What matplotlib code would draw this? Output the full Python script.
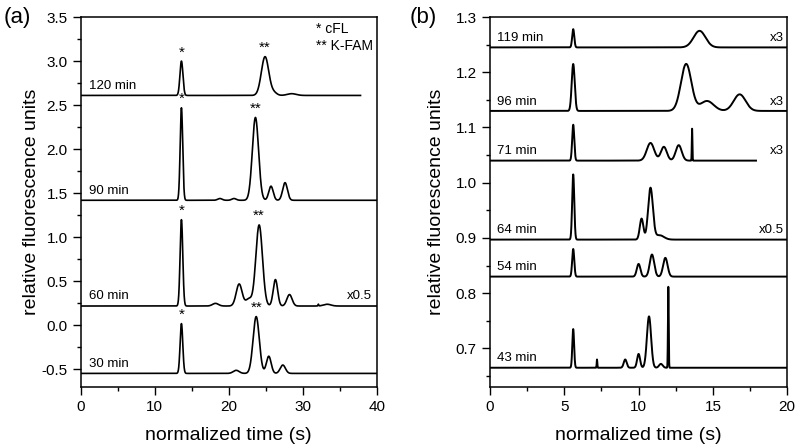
import numpy as np
import matplotlib.pyplot as plt

plt.rcParams['font.family'] = ['Liberation Sans', 'DejaVu Sans']

###### panel (a) - capillary runs ######
# each trace: label, baseline, end time, peak centres (s), peak tops, peak widths (sigma)
a_labels = ['120 min', '90 min', '60 min', '30 min']
a_base = [2.61, 1.42, 0.22, -0.545]
a_end = [37.8, 40.0, 40.0, 40.0]
a_centres = [[13.6, 24.9, 26.1, 28.5],
             [13.6, 18.8, 20.7, 23.6, 25.7, 27.6],
             [13.6, 18.2, 21.4, 22.7, 24.1, 26.3, 28.2, 32.1, 33.3],
             [13.6, 21.0, 23.7, 25.4, 27.3]]
a_tops = [[3.0, 3.05, 2.64, 2.63],
          [2.47, 1.44, 1.44, 2.36, 1.58, 1.62],
          [1.20, 0.25, 0.47, 0.30, 1.14, 0.52, 0.35, 0.24, 0.24],
          [0.02, -0.51, 0.10, -0.35, -0.45]]
a_widths = [[0.2, 0.5, 0.4, 0.6],
            [0.17, 0.3, 0.3, 0.42, 0.3, 0.32],
            [0.18, 0.4, 0.4, 0.4, 0.45, 0.3, 0.35, 0.05, 0.5],
            [0.18, 0.4, 0.42, 0.32, 0.35]]
a_scale = ['', '', 'x0.5', '']
a_star_x = [13.6, 24.9, 13.6, 23.6, 13.6, 24.1, 13.6, 23.7]
a_star_y = [3.0, 3.05, 2.47, 2.36, 1.20, 1.14, 0.02, 0.10]
a_star_txt = ['*', '**'] * 4

###### panel (b) ######
b_labels = ['119 min', '96 min', '71 min', '64 min', '54 min', '43 min']
b_base = [1.245, 1.13, 1.04, 0.897, 0.83, 0.665]
b_end = [20.0, 20.0, 17.9, 20.0, 20.0, 20.0]
b_centres = [[5.6, 14.1],
             [5.6, 13.2, 14.6, 16.8],
             [5.6, 10.8, 11.7, 12.7, 13.6],
             [5.6, 10.2, 10.8, 11.4],
             [5.6, 10.0, 10.9, 11.8],
             [5.6, 7.2, 9.1, 10.0, 10.7, 11.5, 12.0]]
b_tops = [[1.278, 1.275],
          [1.215, 1.215, 1.148, 1.16],
          [1.105, 1.072, 1.065, 1.068, 1.098],
          [1.015, 0.935, 0.99, 0.905],
          [0.88, 0.853, 0.87, 0.864],
          [0.735, 0.68, 0.68, 0.69, 0.758, 0.672, 0.812]]
b_widths = [[0.07, 0.4],
            [0.1, 0.35, 0.45, 0.4],
            [0.07, 0.25, 0.2, 0.2, 0.02],
            [0.07, 0.12, 0.16, 0.3],
            [0.07, 0.12, 0.15, 0.15],
            [0.06, 0.02, 0.1, 0.1, 0.14, 0.12, 0.025]]
b_scale = ['x3', 'x3', 'x3', 'x0.5', '', '']


def trace(base, end, centres, tops, widths):
    t = np.linspace(0.0, end, 4000)
    y = np.full_like(t, base)
    for c, h, w in zip(centres, tops, widths):
        y += (h - base) * np.exp(-0.5 * ((t - c) / w) ** 2)
    return t, y


fig = plt.figure(figsize=(8, 4.48), dpi=100)
ax1 = fig.add_axes([0.101, 0.136, 0.37, 0.826])
ax2 = fig.add_axes([0.6125, 0.136, 0.3715, 0.826])

for i in range(len(a_labels)):
    t, y = trace(a_base[i], a_end[i], a_centres[i], a_tops[i], a_widths[i])
    ax1.plot(t, y, color='black', lw=1.2)
    ax1.text(1.1, a_base[i] + 0.04, a_labels[i], fontsize=9.5, va='bottom')
    if a_scale[i]:
        ax1.text(39.3, a_base[i] + 0.04, a_scale[i], fontsize=9.5, va='bottom', ha='right')
for x, y, s in zip(a_star_x, a_star_y, a_star_txt):
    ax1.text(x, y + 0.02, s, fontsize=11, ha='center', va='bottom')
ax1.text(39.5, 3.27, '* cFL\n** K-FAM', fontsize=10, ha='right', va='center',
         multialignment='left', linespacing=1.3)

for i in range(len(b_labels)):
    t, y = trace(b_base[i], b_end[i], b_centres[i], b_tops[i], b_widths[i])
    ax2.plot(t, y, color='black', lw=1.4)
    ax2.text(0.5, b_base[i] + 0.006, b_labels[i], fontsize=9.5, va='bottom')
    if b_scale[i]:
        ax2.text(19.8, b_base[i] + 0.006, b_scale[i], fontsize=9.5, va='bottom', ha='right')

ax1.set_xlim(0, 40)
ax1.set_ylim(-0.7, 3.5)
ax1.set_xticks([0, 10, 20, 30, 40])
ax1.set_xticks(np.arange(5, 40, 10), minor=True)
ax1.set_yticks(np.arange(-0.5, 3.6, 0.5))
ax1.set_yticks(np.arange(-0.25, 3.5, 0.5), minor=True)
ax1.set_yticklabels(['%.1f' % v for v in np.arange(-0.5, 3.6, 0.5)])

ax2.set_xlim(0, 20)
ax2.set_ylim(0.63, 1.3)
ax2.set_xticks([0, 5, 10, 15, 20])
ax2.set_xticks(np.arange(2.5, 20, 5), minor=True)
ax2.set_yticks([0.7, 0.8, 0.9, 1.0, 1.1, 1.2, 1.3])
ax2.set_yticks(np.arange(0.65, 1.3, 0.1), minor=True)
ax2.set_yticklabels(['%.1f' % v for v in [0.7, 0.8, 0.9, 1.0, 1.1, 1.2, 1.3]])

for ax, tag, tx, lx in [(ax1, '(a)', -0.26, -0.139), (ax2, '(b)', -0.27, -0.152)]:
    ax.tick_params(which='major', direction='out', length=6, width=1, labelsize=11)
    ax.tick_params(which='minor', direction='out', length=3, width=1)
    for sp in ax.spines.values():
        sp.set_linewidth(1.1)
    ax.set_xlabel('normalized time (s)', fontsize=14, labelpad=9)
    ax.set_ylabel('relative fluorescence units', fontsize=14)
    ax.yaxis.set_label_coords(lx, 0.5)
    ax.text(tx, 1.0, tag, transform=ax.transAxes, fontsize=16, va='center', ha='left')

fig.savefig('out.png', dpi=100)
